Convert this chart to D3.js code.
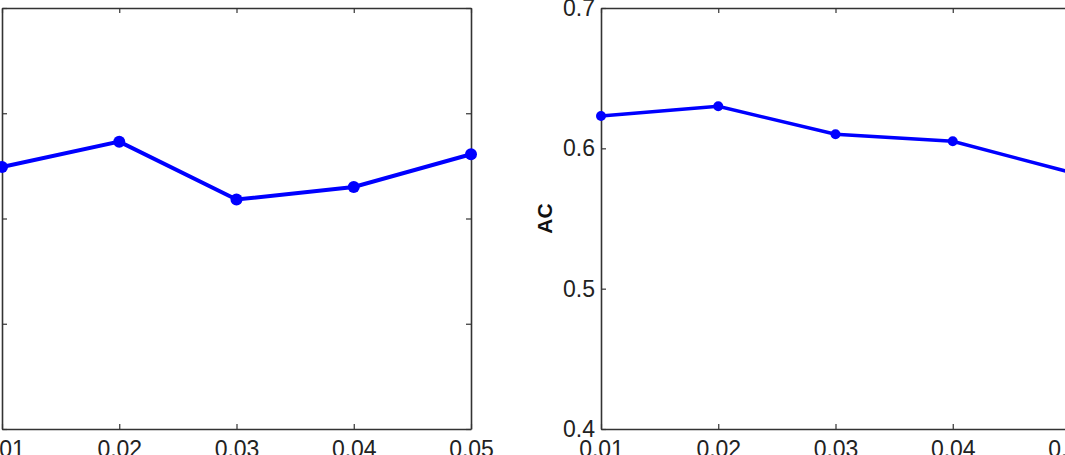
<!DOCTYPE html>
<html>
<head>
<meta charset="utf-8">
<script src="https://cdn.jsdelivr.net/npm/d3@7"></script>
<style>
	body { margin: 0; background: #fff; }
	svg { display: block; font-family: "Liberation Sans", Arial, sans-serif; }
</style>
</head>
<body>
<svg id="chart" width="1065" height="455"></svg>
<script>
// values
const xValues = [0.01, 0.02, 0.03, 0.04, 0.05];
const leftValues = [0.549, 0.573, 0.518, 0.530, 0.561];
const rightValues = [0.623, 0.630, 0.610, 0.605, 0.583];
const leftYTicks = [0.3, 0.4, 0.5, 0.6, 0.7];
const rightYTicks = [0.4, 0.5, 0.6, 0.7];
const xTicks = [0.01, 0.02, 0.03, 0.04, 0.05];

const svg = d3.select("#chart");

function drawPanel(opts) {
	const g = svg.append("g").attr("transform", `translate(${opts.left},8)`);
	const w = 469, h = 421;

	const x = d3.scaleLinear().domain([0.01, 0.05]).range([0, w]);
	const y = d3.scaleLinear().domain(opts.yDomain).range([h, 0]);

	// bottom + top axes, ticks pointing inward
	g.append("g")
		.attr("transform", `translate(0,${h})`)
		.call(d3.axisBottom(x).tickValues(xTicks).tickSizeInner(-5).tickSizeOuter(0).tickPadding(12)
			.tickFormat(d3.format(".2f")));
	g.append("g")
		.call(d3.axisTop(x).tickValues(xTicks).tickSizeInner(-5).tickSizeOuter(0).tickFormat(""));

	g.append("g")
		.call(d3.axisLeft(y).tickValues(opts.yTicks).tickSizeInner(-5).tickSizeOuter(0).tickPadding(6)
			.tickFormat(d3.format(".1f")));
	g.append("g")
		.attr("transform", `translate(${w},0)`)
		.call(d3.axisRight(y).tickValues(opts.yTicks).tickSizeInner(-5).tickSizeOuter(0).tickFormat(""));

	g.selectAll(".domain").attr("stroke", "#333").attr("stroke-width", 1.6);
	g.selectAll(".tick line").attr("stroke", "#333").attr("stroke-width", 1.2);
	g.selectAll(".tick text").attr("fill", "#222").attr("font-size", "23px");

	if (opts.label) {
		g.append("text")
			.attr("transform", `translate(-49,${h / 2}) rotate(-90)`)
			.attr("text-anchor", "middle")
			.attr("font-size", "21px")
			.attr("font-weight", "bold")
			.attr("fill", "#111")
			.text(opts.label);
	}

	const line = d3.line()
		.x((d, i) => x(xValues[i]))
		.y(d => y(d));

	g.append("path")
		.datum(opts.values)
		.attr("fill", "none")
		.attr("stroke", "#0000ff")
		.attr("stroke-width", opts.sw)
		.attr("d", line);

	g.selectAll("circle.pt")
		.data(opts.values)
		.enter()
		.append("circle")
		.attr("class", "pt")
		.attr("cx", (d, i) => x(xValues[i]))
		.attr("cy", d => y(d))
		.attr("r", opts.r)
		.attr("fill", "#0000ff");
}

drawPanel({ left: 2, yDomain: [0.3, 0.7], yTicks: leftYTicks, values: leftValues, r: 6, sw: 4 });
drawPanel({ left: 601, yDomain: [0.4, 0.7], yTicks: rightYTicks, values: rightValues, r: 5, sw: 3.5, label: "AC" });
</script>
</body>
</html>
